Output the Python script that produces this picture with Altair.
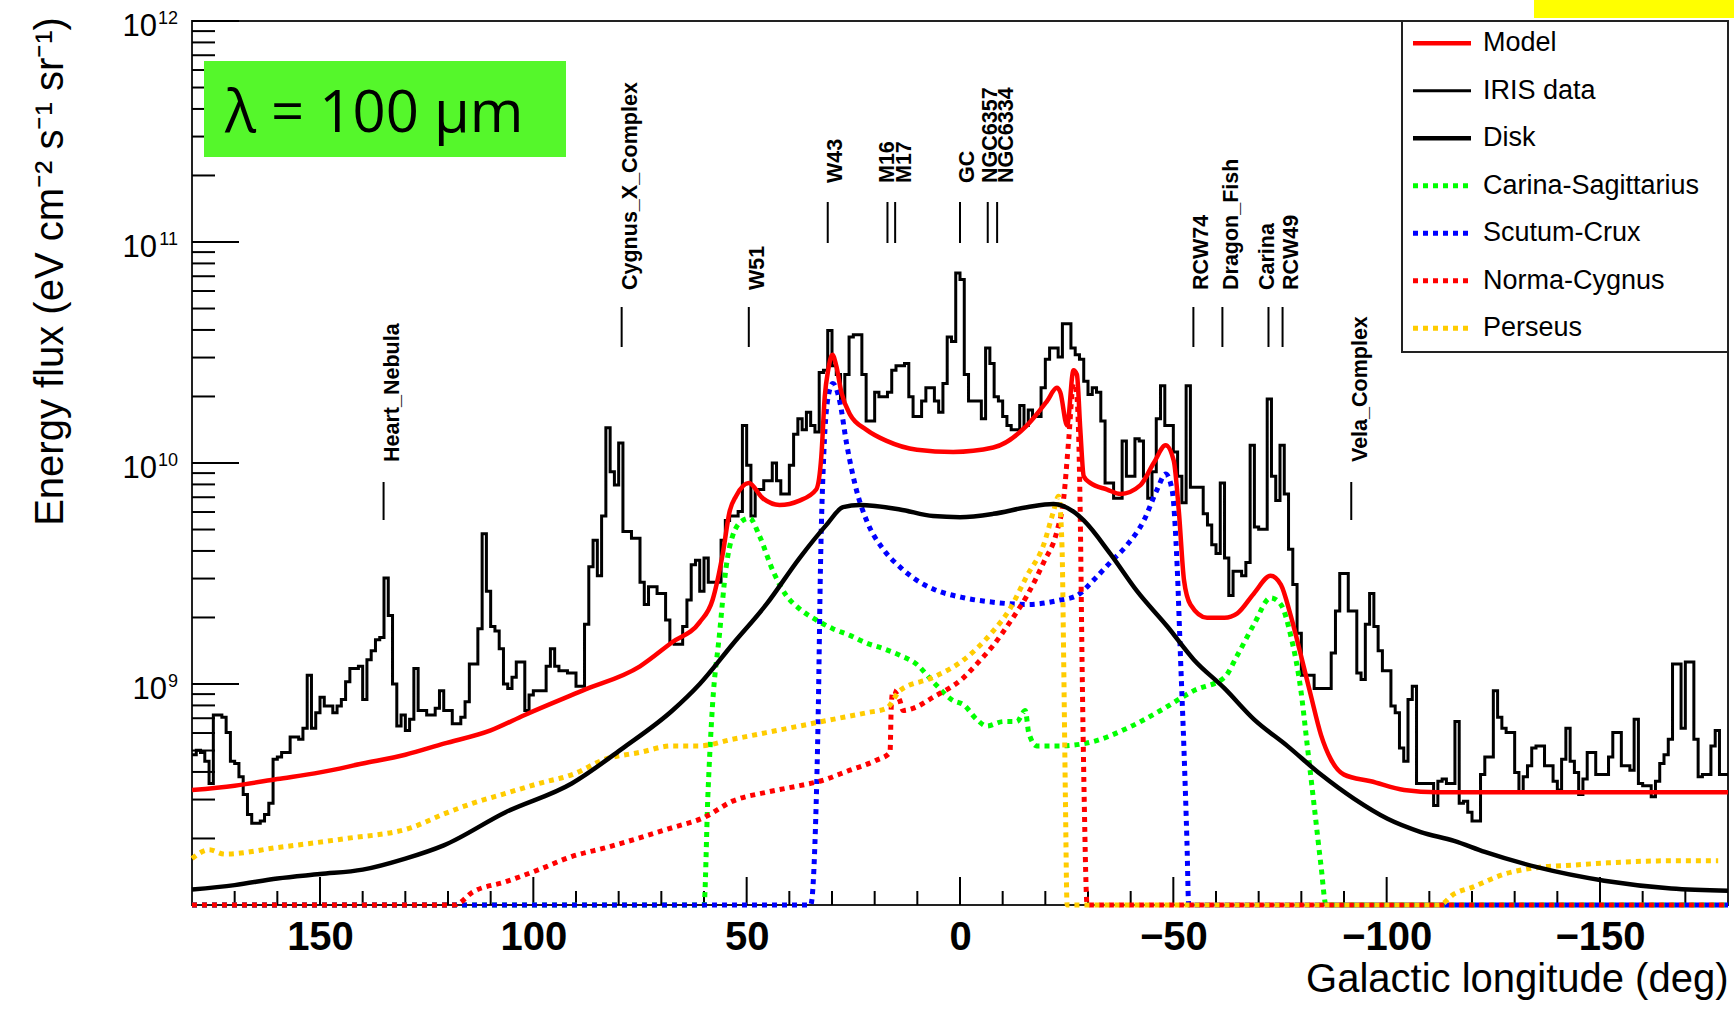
import altair as alt
import pandas as pd

# ---------------- data ----------------
# IRIS 100 um data: log10(flux) per 1-degree bin, from l = 180 (bin 180..179) down to l = -180
iris_log10 = [
    8.68, 8.70, 8.69, 8.65, 8.55, 8.86, 8.86, 8.85, 8.78, 8.65,
    8.64, 8.58, 8.50, 8.41, 8.37, 8.37, 8.38, 8.41, 8.46, 8.66,
    8.67, 8.69, 8.69, 8.76, 8.76, 8.75, 8.80, 9.04, 8.80, 8.87,
    8.94, 8.90, 8.90, 8.87, 8.90, 8.93, 9.01, 9.07, 9.07, 9.08,
    8.93, 9.11, 9.15, 9.20, 9.21, 9.48, 9.31, 9.00, 8.81, 8.86,
    8.79, 8.84, 9.07, 8.88, 8.88, 8.86, 8.86, 8.89, 8.97, 8.88,
    8.88, 8.82, 8.82, 8.85, 8.92, 9.09, 9.09, 9.25, 9.68, 9.42,
    9.26, 9.24, 9.16, 9.00, 8.98, 9.03, 9.10, 9.10, 8.88, 8.95,
    8.97, 8.97, 8.97, 9.08, 9.16, 9.08, 9.06, 9.06, 9.05, 9.05,
    8.99, 8.99, 9.27, 9.53, 9.65, 9.49, 9.76, 10.16, 9.96, 9.90,
    10.09, 9.69, 9.69, 9.66, 9.66, 9.46, 9.36, 9.44, 9.44, 9.41,
    9.41, 9.29, 9.19, 9.18, 9.18, 9.26, 9.38, 9.54, 9.56, 9.42,
    9.57, 9.46, 9.46, 9.46, 9.65, 9.74, 9.76, 9.76, 9.78, 10.17,
    9.99, 9.76, 9.88, 9.88, 9.92, 9.92, 10.00, 9.92, 9.86, 9.86,
    9.99, 10.13, 10.20, 10.15, 10.23, 10.17, 10.14, 10.41, 10.42, 10.60,
    10.44, 10.40, 10.28, 10.40, 10.57, 10.58, 10.58, 10.40, 10.19, 10.19,
    10.32, 10.30, 10.30, 10.32, 10.42, 10.44, 10.44, 10.45, 10.30, 10.21,
    10.21, 10.28, 10.34, 10.34, 10.28, 10.23, 10.36, 10.57, 10.55, 10.86,
    10.83, 10.40, 10.28, 10.28, 10.28, 10.20, 10.52, 10.45, 10.30, 10.28,
    10.21, 10.17, 10.15, 10.15, 10.26, 10.17, 10.24, 10.21, 10.21, 10.34,
    10.47, 10.52, 10.52, 10.48, 10.63, 10.63, 10.52, 10.49, 10.47, 10.37,
    10.31, 10.34, 10.32, 10.19, 9.91, 9.91, 9.84, 9.84, 10.10, 9.94,
    9.94, 10.11, 10.10, 9.94, 9.84, 9.96, 10.20, 10.35, 10.17, 10.17,
    10.05, 9.94, 9.82, 10.35, 9.89, 9.89, 9.89, 9.77, 9.72, 9.63,
    9.59, 9.91, 9.57, 9.40, 9.51, 9.51, 9.49, 9.55, 10.08, 9.71,
    9.70, 9.70, 10.29, 9.94, 9.83, 10.08, 9.86, 9.61, 9.45, 9.23,
    9.04, 9.04, 9.04, 8.98, 8.98, 8.98, 8.98, 9.14, 9.33, 9.50,
    9.50, 9.33, 9.33, 9.05, 9.02, 9.27, 9.41, 9.26, 9.15, 9.06,
    9.06, 8.90, 8.87, 8.71, 8.65, 8.93, 8.99, 8.55, 8.55, 8.55,
    8.55, 8.45, 8.56, 8.57, 8.55, 8.55, 8.83, 8.46, 8.47, 8.42,
    8.38, 8.38, 8.59, 8.67, 8.67, 8.97, 8.85, 8.80, 8.78, 8.78,
    8.60, 8.51, 8.58, 8.63, 8.71, 8.72, 8.72, 8.63, 8.63, 8.56,
    8.52, 8.66, 8.80, 8.65, 8.60, 8.50, 8.57, 8.69, 8.69, 8.59,
    8.59, 8.59, 8.67, 8.78, 8.78, 8.63, 8.63, 8.61, 8.84, 8.55,
    8.54, 8.54, 8.49, 8.56, 8.64, 8.68, 8.75, 9.09, 9.09, 8.80,
    9.10, 9.10, 8.75, 8.58, 8.59, 8.59, 8.72, 8.79, 8.59, 8.59,
]
iris_bin_hi = list(range(180, -180, -1))

model_l = [180, 170, 160, 150, 140, 130, 121, 110, 102, 88.5, 75, 67.4, 61, 58, 55.6, 54, 52.5, 49.5, 46.2, 42.3,
           37.6, 33.7, 32.5, 31.7, 30.9, 29.9, 29.0, 27.8, 25.8, 21.9, 17.2, 10.1, 1.6, -7.8, -15.7, -20.4, -22.7,
           -23.5, -25.1, -26.6, -27.4, -28.2, -29.0, -30.5, -34.5, -37.6, -42.3, -45.4, -48.2, -50.1, -51.3, -52.5,
           -54.0, -57.9, -62, -65, -68.9, -72.8, -75.2, -77.5, -79.9, -82.2, -84.6, -86.9, -90, -96.3, -104.1,
           -111.9, -123, -150, -180]
model_log10 = [8.52, 8.54, 8.57, 8.60, 8.64, 8.68, 8.73, 8.79, 8.86, 8.97, 9.08, 9.19, 9.28, 9.38, 9.59, 9.78, 9.85,
               9.91, 9.84, 9.81, 9.83, 9.88, 10.03, 10.30, 10.42, 10.49, 10.44, 10.32, 10.22, 10.15, 10.10, 10.06,
               10.05, 10.07, 10.17, 10.28, 10.34, 10.32, 10.17, 10.42, 10.40, 10.15, 9.94, 9.91, 9.88, 9.86, 9.90,
               10.00, 10.08, 10.01, 9.78, 9.47, 9.36, 9.30, 9.30, 9.32, 9.41, 9.49, 9.45, 9.31, 9.13, 8.95, 8.77,
               8.66, 8.59, 8.56, 8.52, 8.51, 8.51, 8.51, 8.51]

disk_l = [180, 170, 160, 150, 140, 130, 121, 106.5, 91, 79, 67.4, 61, 53.3, 45.4, 37.6, 31.3, 27.4, 23.5, 14.1, 6.3,
          0, -7.8, -15.7, -21.9, -26.6, -29, -35.2, -41.5, -48.6, -54.8, -62, -68.9, -76.7, -84.6, -92.4, -100.2,
          -108, -115.8, -123, -135.5, -151, -166.7, -180]
disk_log10 = [8.07, 8.09, 8.12, 8.14, 8.16, 8.21, 8.27, 8.42, 8.55, 8.71, 8.88, 9.00, 9.18, 9.36, 9.57, 9.72, 9.80,
              9.81, 9.79, 9.76, 9.755, 9.77, 9.80, 9.815, 9.78, 9.74, 9.59, 9.42, 9.26, 9.11, 8.98, 8.84, 8.72, 8.59,
              8.48, 8.39, 8.33, 8.29, 8.24, 8.17, 8.11, 8.075, 8.065]

carina_l = [180, 60.0, 59.1, 58.0, 56.4, 54.8, 53.3, 50.9, 49.3, 47.0, 43.8, 40.7, 37.6, 33.7, 29.8, 25.8, 21.9, 18.0,
            14.1, 10.2, 6.3, 1.6, -0.9, -3.9, -6.3, -10.2, -13.3, -15.3, -16.1, -18, -23.5, -31.3, -39.2, -47, -54.8,
            -62, -65, -68.9, -72.8, -75.2, -77.5, -79.9, -81.4, -83, -84.6, -85.8, -180]
carina_log10 = [8.0, 8.0, 8.49, 8.905, 9.22, 9.53, 9.67, 9.74, 9.75, 9.67, 9.51, 9.40, 9.34, 9.29, 9.25, 9.22, 9.185,
                9.16, 9.13, 9.09, 9.01, 8.925, 8.905, 8.84, 8.81, 8.83, 8.83, 8.88, 8.78, 8.72, 8.72, 8.74, 8.80,
                8.88, 8.97, 9.03, 9.13, 9.27, 9.39, 9.36, 9.22, 8.97, 8.72, 8.45, 8.18, 8.0, 8.0]

scutum_l = [180, 35.0, 34.0, 33.2, 32.7, 31.9, 30.9, 29.8, 28.2, 26.6, 24.3, 21.9, 18.0, 14.1, 10.2, 6.3, -0.9, -7.8,
            -15.7, -23.5, -27.4, -31.3, -35.2, -39.2, -43.1, -46.2, -48.2, -49.7, -50.9, -51.7, -52.5, -53.2, -53.6,
            -180]
scutum_log10 = [8.0, 8.0, 8.28, 8.9, 9.53, 10.05, 10.30, 10.36, 10.28, 10.09, 9.88, 9.74, 9.61, 9.53, 9.47, 9.43,
                9.39, 9.37, 9.36, 9.38, 9.40, 9.47, 9.55, 9.63, 9.74, 9.88, 9.95, 9.88, 9.53, 9.11, 8.70, 8.28, 8.0,
                8.0]

norma_l = [180, 118.5, 114.1, 106.5, 98.7, 90.9, 82.9, 67.4, 60.1, 53.3, 45.4, 37.6, 32.9, 25.8, 19.6, 16.4, 16.1,
           15.7, 14.1, 13.3, 11.0, 6.3, -0.9, -3.9, -7.8, -11.7, -15.7, -19.6, -22.7, -24.3, -25.5, -26.6, -27.4,
           -28.2, -28.6, -29.1, -29.8, -180]
norma_log10 = [8.0, 8.0, 8.06, 8.105, 8.16, 8.22, 8.26, 8.35, 8.395, 8.47, 8.51, 8.54, 8.56, 8.61, 8.655, 8.69,
               8.905, 8.97, 8.925, 8.88, 8.89, 8.94, 9.03, 9.09, 9.175, 9.28, 9.40, 9.55, 9.69, 9.84, 10.11, 10.36,
               10.30, 9.74, 9.11, 8.49, 8.0, 8.0]

perseus_l = [180, 176, 172.3, 160, 144.2, 128.6, 121.2, 114.3, 106.5, 98.7, 90.9, 83.1, 75.2, 67.4, 61.1, 53.3, 45.4,
             37.6, 29.8, 21.9, 17.2, 14.1, 6.3, -0.9, -3.9, -7.8, -11.7, -15.7, -19.6, -21.9, -23.1, -23.9, -24.3,
             -24.7, -25.1, -112.3, -115.8, -120, -127.6, -135.5, -143.3, -151.1, -166.7, -177.7]
perseus_log10 = [8.21, 8.25, 8.23, 8.26, 8.30, 8.35, 8.41, 8.46, 8.505, 8.55, 8.59, 8.66, 8.69, 8.72, 8.72, 8.75,
                 8.78, 8.81, 8.84, 8.87, 8.89, 8.97, 9.03, 9.11, 9.16, 9.24, 9.34, 9.49, 9.63, 9.78, 9.85, 9.63, 9.11,
                 8.49, 8.0, 8.0, 8.05, 8.08, 8.14, 8.17, 8.18, 8.19, 8.20, 8.20]

source_names = ["Heart_Nebula", "Cygnus_X_Complex", "W51", "W43", "M16", "M17", "GC", "NGC6357", "NGC6334",
                "RCW74", "Dragon_Fish", "Carina", "RCW49", "Vela_Complex"]
source_line_l = [135.1, 79.3, 49.5, 31.0, 17.0, 15.2, 0.0, -6.5, -8.7, -54.7, -61.5, -72.3, -75.6, -91.7]
source_text_l = [132.9, 77.2, 47.3, 29.0, 16.8, 13.0, -1.8, -7.2, -10.9, -56.7, -63.7, -72.3, -77.7, -93.9]
source_tier = [2, 1, 1, 0, 0, 0, 0, 0, 0, 1, 1, 1, 1, 2]

x_tick_labels = [150, 100, 50, 0, -50, -100, -150]
y_exponents = [9, 10, 11, 12]

legend_names = ["Model", "IRIS data", "Disk", "Carina-Sagittarius", "Scutum-Crux", "Norma-Cygnus", "Perseus"]

# ---------------- layout / style ----------------
W, H = 1536, 884
FONT = "Liberation Sans"
GREEN, BLUE, RED, GOLD = "#00ff00", "#0000ff", "#ff0000", "#ffcc00"
DOT = [5, 5]

xs = alt.Scale(domain=[180, -180], nice=False, zero=False)
ys = alt.Scale(type="log", domain=[1e8, 1e12], nice=False)

x_axis = alt.Axis(values=x_tick_labels, format="d", labelFont=FONT, labelFontSize=40, labelFontWeight="bold",
                  labelColor="black", labelPadding=12, labelFlush=False, labelOverlap=False,
                  ticks=False, domain=False, grid=False,
                  title="Galactic longitude (deg)", titleFont=FONT, titleFontSize=40, titleFontWeight="normal",
                  titleColor="black", titleX=W, titleY=74, titleAlign="right", titleBaseline="middle")
y_axis = alt.Axis(labels=False, ticks=False, domain=False, grid=False,
                  title="Energy flux  (eV cm\u207b\u00b2 s\u207b\u00b9 sr\u207b\u00b9)", titleFont=FONT,
                  titleFontSize=40, titleFontWeight="normal", titleColor="black", titleX=-142, titleY=250,
                  titleAngle=270, titleAlign="center", titleBaseline="middle")

X = alt.X("l:Q", scale=xs, axis=x_axis)
Y = alt.Y("v:Q", scale=ys, axis=y_axis)


def series_df(ls, logs):
    return pd.DataFrame({"l": ls, "v": [10.0 ** z for z in logs], "i": list(range(len(ls)))})


def curve(ls, logs, color, width, dash=None):
    mk = dict(color=color, strokeWidth=width, strokeCap="butt", interpolate="monotone")
    if dash:
        mk["strokeDash"] = dash
    return alt.Chart(series_df(ls, logs)).mark_line(**mk).encode(x=X, y=Y, order="i:Q")


one = pd.DataFrame({"a": [0]})
layers = []

# axis ticks (inside the frame, as in the ROOT canvas)
x_minor = [t for t in range(170, -180, -10) if t not in x_tick_labels]
layers.append(alt.Chart(pd.DataFrame({"l": x_tick_labels})).mark_rule(color="black", strokeWidth=2)
              .encode(x=X, y=alt.value(H), y2=alt.value(H - 28)))
layers.append(alt.Chart(pd.DataFrame({"l": x_minor})).mark_rule(color="black", strokeWidth=2)
              .encode(x=X, y=alt.value(H), y2=alt.value(H - 14)))
y_major = [10.0 ** e for e in y_exponents]
y_minor = [k * 10.0 ** e for e in range(8, 12) for k in range(2, 10)]
layers.append(alt.Chart(pd.DataFrame({"v": y_major})).mark_rule(color="black", strokeWidth=2)
              .encode(y=Y, x=alt.value(0), x2=alt.value(47)))
layers.append(alt.Chart(pd.DataFrame({"v": y_minor})).mark_rule(color="black", strokeWidth=2)
              .encode(y=Y, x=alt.value(0), x2=alt.value(23)))

# y tick labels 10^n
for e in y_exponents:
    d = pd.DataFrame({"v": [10.0 ** e]})
    w_exp = 10 * len(str(e))
    layers.append(alt.Chart(d).mark_text(text="10", font=FONT, fontSize=31, align="right", baseline="alphabetic",
                                         dy=15, color="black")
                  .encode(y=Y, x=alt.value(-14 - w_exp - 1)))
    layers.append(alt.Chart(d).mark_text(text=str(e), font=FONT, fontSize=18, align="right", baseline="alphabetic",
                                         dy=3, color="black")
                  .encode(y=Y, x=alt.value(-14)))

# IRIS histogram
iris_df = pd.DataFrame({"l": iris_bin_hi + [-180],
                        "v": [10.0 ** z for z in iris_log10] + [10.0 ** iris_log10[-1]]})
iris_df["i"] = list(range(len(iris_df)))
layers.append(alt.Chart(iris_df).mark_line(color="black", strokeWidth=3, interpolate="step-after",
                                           strokeJoin="miter")
              .encode(x=X, y=Y, order="i:Q"))

# spiral arms, disk, model
layers.append(curve(carina_l, carina_log10, GREEN, 5, DOT))
layers.append(curve(scutum_l, scutum_log10, BLUE, 5, DOT))
layers.append(curve(norma_l, norma_log10, RED, 5, DOT))
layers.append(curve(perseus_l, perseus_log10, GOLD, 5, DOT))
layers.append(curve(disk_l, disk_log10, "black", 4.5))
layers.append(curve(model_l, model_log10, RED, 4.5))

# source markers
tier_rule = {0: (181, 222), 1: (286, 326), 2: (461, 499)}
tier_text = {0: 162, 1: 269, 2: 441}
for t in (0, 1, 2):
    idx = [k for k, tt in enumerate(source_tier) if tt == t]
    ld = pd.DataFrame({"l": [source_line_l[k] for k in idx]})
    td = pd.DataFrame({"l": [source_text_l[k] for k in idx], "name": [source_names[k] for k in idx]})
    layers.append(alt.Chart(ld).mark_rule(color="black", strokeWidth=2)
                  .encode(x=X, y=alt.value(tier_rule[t][0]), y2=alt.value(tier_rule[t][1])))
    layers.append(alt.Chart(td).mark_text(angle=270, align="left", baseline="middle", font=FONT, fontSize=21.5,
                                          fontWeight="bold", color="black")
                  .encode(x=X, y=alt.value(tier_text[t]), text="name:N"))

# wavelength box
layers.append(alt.Chart(one).mark_rect(fill="#55f72b").encode(
    x=alt.value(12), x2=alt.value(374), y=alt.value(40), y2=alt.value(136)))
layers.append(alt.Chart(one).mark_text(text="\u03bb = 100 \u03bcm", font="Open Sans", fontSize=58, align="left",
                                       baseline="alphabetic", color="black")
              .encode(x=alt.value(33), y=alt.value(111)))

# yellow strip at the top right
layers.append(alt.Chart(one).mark_rect(fill="#ffff00").encode(
    x=alt.value(1342), x2=alt.value(1542), y=alt.value(-21), y2=alt.value(-3)))

# legend
layers.append(alt.Chart(one).mark_rect(fill="white", stroke="#222", strokeWidth=2).encode(
    x=alt.value(1210), x2=alt.value(W), y=alt.value(0), y2=alt.value(331)))
leg_style = [(RED, 4.5, None), ("black", 3, None), ("black", 4.5, None), (GREEN, 5, DOT), (BLUE, 5, DOT),
             (RED, 5, DOT), (GOLD, 5, DOT)]
for k, name in enumerate(legend_names):
    yy = 22.3 + 47.5 * k
    col, sw, dash = leg_style[k]
    mk = dict(color=col, strokeWidth=sw, strokeCap="butt")
    if dash:
        mk["strokeDash"] = dash
    layers.append(alt.Chart(one).mark_rule(**mk).encode(x=alt.value(1221), x2=alt.value(1279), y=alt.value(yy)))
    layers.append(alt.Chart(one).mark_text(text=name, font=FONT, fontSize=27, align="left", baseline="middle",
                                           color="black")
                  .encode(x=alt.value(1291), y=alt.value(yy)))

chart = alt.layer(*layers).properties(
    width=W, height=H,
    autosize=alt.AutoSizeParams(type="none"),
    padding={"left": 192, "top": 21, "right": 6, "bottom": 106},
    background="white",
).configure_view(stroke="#222", strokeWidth=2)

chart.save("out.html", embed_options={"renderer": "svg", "actions": False})
